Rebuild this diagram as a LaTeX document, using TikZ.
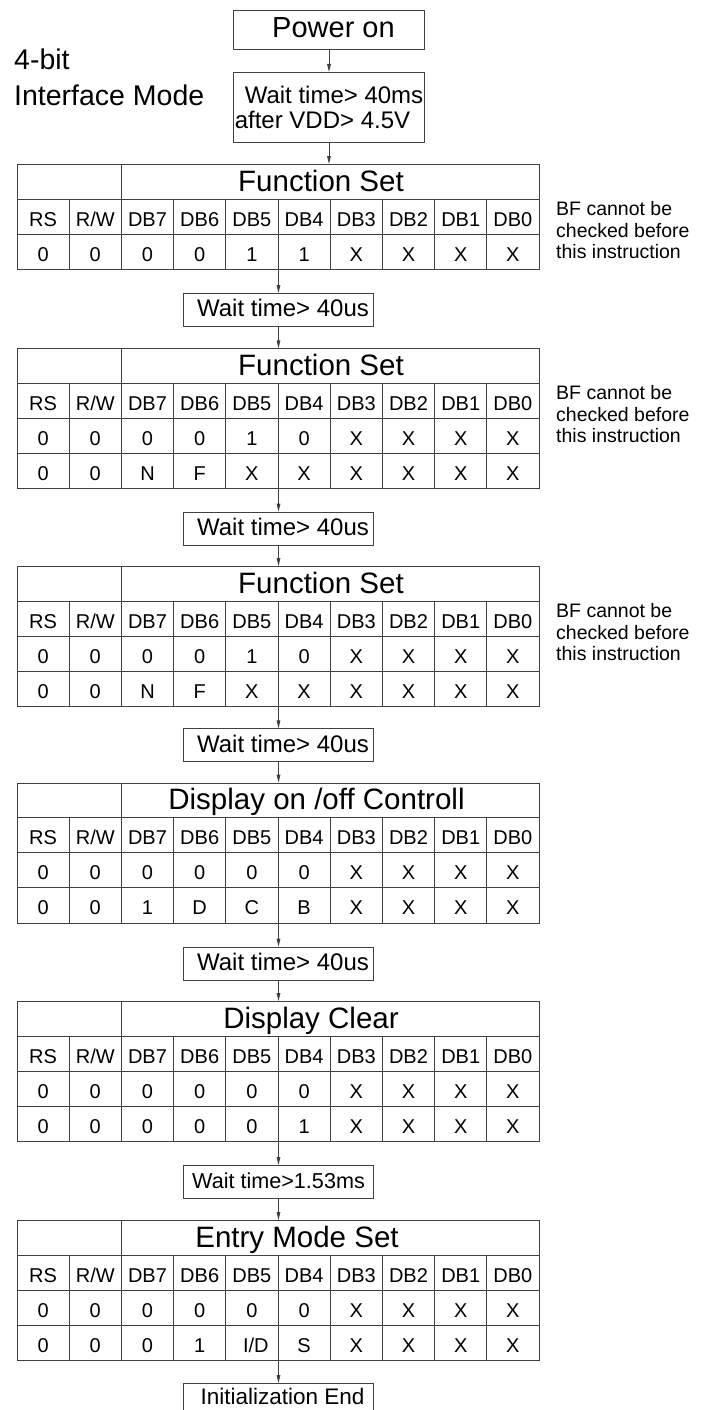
\documentclass[tikz,border=0pt]{standalone}
\usepackage{fontspec}
\setmainfont{Liberation Sans}
\usetikzlibrary{arrows.meta,calc}

\tikzset{
  line/.style={draw=black!75, line width=1pt},
  flowbox/.style={line, rectangle, inner sep=0pt, anchor=north west},
  flowarrow/.style={line, -{Triangle[length=8pt,width=3.6pt]}},
  celltext/.style={font=\fontsize{20}{24}\selectfont, anchor=base, inner sep=0pt},
  titletext/.style={font=\fontsize{29.5}{34}\selectfont, anchor=base, inner sep=0pt},
  waitbox/.style={flowbox, minimum width=190.6pt, minimum height=33pt, text height=23.3pt, text depth=9.7pt, font=\fontsize{24}{28}\selectfont},
  notetext/.style={font=\fontsize{19.5}{21.5}\selectfont, anchor=base west, inner sep=0pt},
  sidetext/.style={font=\fontsize{28.5}{34}\selectfont, anchor=base west, inner sep=0pt},
}

\newcommand\regtab[5]{%
  \pgfmathsetmacro\tabh{70+35*#3}%
  \pgfmathsetmacro\tabb{#2+\tabh}%
  \node[flowbox, minimum width=522pt, minimum height=\tabh pt] (#1) at (17,#2) {};
  \foreach \k in {0,...,#3} \draw[line] (17,#2+35+35*\k) -- (539,#2+35+35*\k);
  \draw[line] (121.4,#2) -- (121.4,\tabb);
  \foreach \k in {1,3,4,5,6,7,8,9} \draw[line] (17+52.2*\k,#2+35) -- (17+52.2*\k,\tabb);
  \node[titletext] (#1-title) at (#4,#2+27) {#5};
  \foreach \h [count=\i from 0] in {RS,R/W,DB7,DB6,DB5,DB4,DB3,DB2,DB1,DB0}
    \node[celltext] (#1-h\i) at (43.1+52.2*\i,#2+62) {\h};
}
\newcommand\tabrow[4]{%
  \foreach \v [count=\i from 0] in {#4}
    \node[celltext] (#1-r#3-\i) at (43.1+52.2*\i,#2+35*#3+62) {\v};
}
\newcommand\bfnote[2]{%
  \node[notetext] (#1-n1) at (556,#2+51.5) {BF cannot be};
  \node[notetext] (#1-n2) at (556,#2+73) {checked before};
  \node[notetext] (#1-n3) at (556,#2+94.5) {this instruction};
}

\begin{document}
\begin{tikzpicture}[x=1pt,y=-1pt]
\useasboundingbox (0,0) rectangle (707,1410);

% side label
\node[sidetext] (lab1) at (14,70) {4-bit};
\node[sidetext] (lab2) at (14,106) {Interface Mode};

% top boxes
\node[flowbox, minimum width=191pt, minimum height=39pt, text height=27.3pt, text depth=11.7pt,
      font=\fontsize{29}{34}\selectfont] (pwr) at (233,10) {\hspace*{9pt}Power on};
\node[flowbox, minimum width=191pt, minimum height=70pt, align=left,
      font=\fontsize{24}{25}\selectfont] (w0) at (233,72) {\hspace*{10pt}Wait time> 40ms\\after VDD> 4.5V};

% tables
\regtab{t1}{164}{1}{321}{Function Set}
\tabrow{t1}{164}{1}{0,0,0,0,1,1,X,X,X,X}
\bfnote{t1}{164}

\node[waitbox] (w1) at (182.7,293) {\hspace*{9pt}Wait time> 40us};

\regtab{t2}{348.3}{2}{321}{Function Set}
\tabrow{t2}{348.3}{1}{0,0,0,0,1,0,X,X,X,X}
\tabrow{t2}{348.3}{2}{0,0,N,F,X,X,X,X,X,X}
\bfnote{t2}{348.3}

\node[waitbox] (w2) at (182.7,511.7) {\hspace*{9pt}Wait time> 40us};

\regtab{t3}{566}{2}{321}{Function Set}
\tabrow{t3}{566}{1}{0,0,0,0,1,0,X,X,X,X}
\tabrow{t3}{566}{2}{0,0,N,F,X,X,X,X,X,X}
\bfnote{t3}{566}

\node[waitbox] (w3) at (182.7,728.3) {\hspace*{9pt}Wait time> 40us};

\regtab{t4}{782.7}{2}{316.5}{Display on /off Controll}
\tabrow{t4}{782.7}{1}{0,0,0,0,0,0,X,X,X,X}
\tabrow{t4}{782.7}{2}{0,0,1,D,C,B,X,X,X,X}

\node[waitbox] (w4) at (182.7,946.7) {\hspace*{9pt}Wait time> 40us};

\regtab{t5}{1001}{2}{311}{Display Clear}
\tabrow{t5}{1001}{1}{0,0,0,0,0,0,X,X,X,X}
\tabrow{t5}{1001}{2}{0,0,0,0,0,1,X,X,X,X}

\node[waitbox, font=\fontsize{21.6}{26}\selectfont] (w5) at (182.7,1165) {Wait time>1.53ms};

\regtab{t6}{1220}{2}{297}{Entry Mode Set}
\tabrow{t6}{1220}{1}{0,0,0,0,0,0,X,X,X,X}
\tabrow{t6}{1220}{2}{0,0,0,1,\hspace*{8pt}I/D,S,X,X,X,X}

\node[flowbox, minimum width=190.6pt, minimum height=28pt, text height=21pt, text depth=7pt,
      font=\fontsize{22.5}{26}\selectfont] (fin) at (182.7,1383) {\hspace*{8pt}Initialization End};

% connectors
\draw[flowarrow] (pwr.south) -- (w0.north);
\draw[flowarrow] (w0.south) -- (w0.south |- t1.north);
\draw[flowarrow] (t1.south -| w1.north) -- (w1.north);
\draw[flowarrow] (w1.south) -- (w1.south |- t2.north);
\draw[flowarrow] (t2.south -| w2.north) -- (w2.north);
\draw[flowarrow] (w2.south) -- (w2.south |- t3.north);
\draw[flowarrow] (t3.south -| w3.north) -- (w3.north);
\draw[flowarrow] (w3.south) -- (w3.south |- t4.north);
\draw[flowarrow] (t4.south -| w4.north) -- (w4.north);
\draw[flowarrow] (w4.south) -- (w4.south |- t5.north);
\draw[flowarrow] (t5.south -| w5.north) -- (w5.north);
\draw[flowarrow] (w5.south) -- (w5.south |- t6.north);
\draw[flowarrow] (t6.south -| fin.north) -- (fin.north);
\end{tikzpicture}
\end{document}
